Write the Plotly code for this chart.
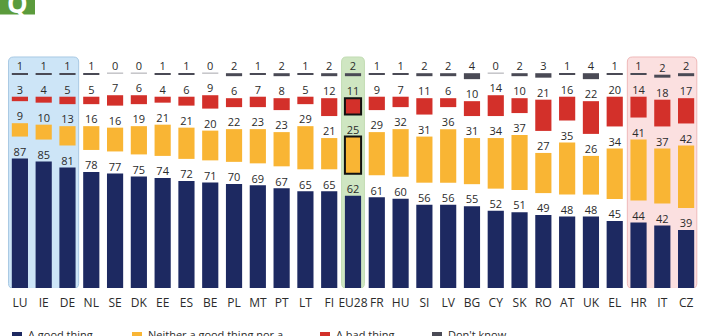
import plotly.graph_objects as go

# Survey results (%), one entry per country
countries = ["LU", "IE", "DE", "NL", "SE", "DK", "EE", "ES", "BE", "PL", "MT", "PT", "LT", "FI",
             "EU28", "FR", "HU", "SI", "LV", "BG", "CY", "SK", "RO", "AT", "UK", "EL", "HR", "IT", "CZ"]
good_thing = [87, 85, 81, 78, 77, 75, 74, 72, 71, 70, 69, 67, 65, 65,
              62, 61, 60, 56, 56, 55, 52, 51, 49, 48, 48, 45, 44, 42, 39]
neither = [9, 10, 13, 16, 16, 19, 21, 21, 20, 22, 23, 23, 29, 21,
           25, 29, 32, 31, 36, 31, 34, 37, 27, 35, 26, 34, 41, 37, 42]
bad_thing = [3, 4, 5, 5, 7, 6, 4, 6, 9, 6, 7, 8, 5, 12,
             11, 9, 7, 11, 6, 10, 14, 10, 21, 16, 22, 20, 14, 18, 17]
dont_know = [1, 1, 1, 1, 0, 0, 1, 1, 0, 2, 1, 2, 1, 2,
             2, 1, 1, 2, 2, 4, 0, 2, 3, 1, 4, 1, 1, 2, 2]

legend_labels = ["A good thing", "Neither a good thing nor a<br>bad thing", "A bad thing", "Don't know"]

NAVY = "#1d2961"
YELLOW = "#f9b534"
RED = "#d3302a"
GREY = "#4a4a55"
ZERO_GREY = "#c4c4c8"
TXT = "#2b2b2b"
FONT = "Open Sans"

GAP = 14.8       # vertical spacing between the separated segments (in % units)
BAR_W = 0.68
x = list(range(len(countries)))
hl = countries.index("EU28")

base_good = [0] * len(x)
base_neither = [g + GAP for g in good_thing]
base_bad = [g + n + 2 * GAP for g, n in zip(good_thing, neither)]
base_dk = [g + n + b + 3 * GAP for g, n, b in zip(good_thing, neither, bad_thing)]

outline_w = [2 if i == hl else 0 for i in x]

fig = go.Figure()


def add_segment(vals, base, color, outlined):
    fig.add_trace(go.Bar(
        x=x, y=vals, base=base, width=BAR_W,
        marker=dict(color=color,
                    line=dict(color="#111111", width=outline_w if outlined else 0)),
        showlegend=False, hoverinfo="skip",
    ))
    tops = [b + v for b, v in zip(base, vals)]
    fig.add_trace(go.Scatter(
        x=x, y=tops, mode="text", text=[str(v) for v in vals],
        textposition="top center", textfont=dict(family=FONT, size=11, color=TXT),
        showlegend=False, hoverinfo="skip",
    ))


add_segment(good_thing, base_good, NAVY, False)
add_segment(neither, base_neither, YELLOW, True)
add_segment(bad_thing, base_bad, RED, True)
add_segment(dont_know, base_dk, GREY, False)

# thin light line where "don't know" is zero
zx, zy = [], []
for i, v in enumerate(dont_know):
    if v == 0:
        zx += [i - BAR_W / 2, i + BAR_W / 2, None]
        zy += [base_dk[i], base_dk[i], None]
fig.add_trace(go.Scatter(x=zx, y=zy, mode="lines", line=dict(color=ZERO_GREY, width=1.5),
                         showlegend=False, hoverinfo="skip"))


def rounded_rect(x0, x1, y0, y1, rx, ry):
    return (f"M{x0 + rx},{y0} L{x1 - rx},{y0} Q{x1},{y0} {x1},{y0 + ry} "
            f"L{x1},{y1 - ry} Q{x1},{y1} {x1 - rx},{y1} L{x0 + rx},{y1} "
            f"Q{x0},{y1} {x0},{y1 - ry} L{x0},{y0 + ry} Q{x0},{y0} {x0 + rx},{y0} Z")


PANEL_TOP = 155.3
shapes = [
    dict(type="path", xref="x", yref="y", layer="below",
         path=rounded_rect(-0.48, 2.47, -0.3, PANEL_TOP, 0.22, 3.4),
         fillcolor="#cde5f7", line=dict(color="#a8c9e4", width=1)),
    dict(type="path", xref="x", yref="y", layer="below",
         path=rounded_rect(hl - 0.48, hl + 0.48, -0.3, PANEL_TOP, 0.2, 3.4),
         fillcolor="#cfe6c2", line=dict(color="#c2dcb3", width=1)),
    dict(type="path", xref="x", yref="y", layer="below",
         path=rounded_rect(25.53, 28.45, -0.3, PANEL_TOP, 0.22, 3.4),
         fillcolor="#fbe0e0", line=dict(color="#efb9b9", width=1)),
]

# page geometry helpers (pixels -> paper coordinates)
L, T, W, H = 8, 50, 690, 238


def px(p):
    return (p - L) / W


def py(p):
    return (T + H - p) / H


# logo block in the top-left corner
shapes.append(dict(type="rect", xref="paper", yref="paper",
                   x0=px(0), x1=px(35), y0=py(14.5), y1=py(-5),
                   fillcolor="#5b9b3c", line=dict(width=0)))

annotations = [dict(xref="paper", yref="paper", x=px(17), y=py(2.5), xanchor="center",
                    yanchor="middle", text="<b>Q</b>", showarrow=False,
                    font=dict(family=FONT, size=26, color="white"))]

# legend along the bottom edge
leg_x = [12, 132, 320, 432]
leg_colors = [NAVY, YELLOW, RED, GREY]
for lx, lc, lt in zip(leg_x, leg_colors, legend_labels):
    shapes.append(dict(type="rect", xref="paper", yref="paper",
                       x0=px(lx), x1=px(lx + 10), y0=py(342), y1=py(332),
                       fillcolor=lc, line=dict(width=0)))
    annotations.append(dict(xref="paper", yref="paper", x=px(lx + 14), y=py(325),
                            xanchor="left", yanchor="top", align="left", text=lt,
                            showarrow=False,
                            font=dict(family=FONT, size=11, color=TXT)))

fig.update_layout(
    width=702, height=336,
    margin=dict(l=L, r=702 - L - W, t=T, b=336 - T - H, pad=0),
    paper_bgcolor="white", plot_bgcolor="rgba(0,0,0,0)",
    barmode="overlay",
    shapes=shapes, annotations=annotations,
    xaxis=dict(range=[-0.5, len(x) - 0.5], tickmode="array", tickvals=x, ticktext=countries,
               showgrid=False, zeroline=False, showline=False, ticks="outside", ticklen=4,
               tickcolor="rgba(0,0,0,0)",
               tickfont=dict(family=FONT, size=12, color=TXT), fixedrange=True),
    yaxis=dict(range=[0, 160], visible=False, fixedrange=True),
)

fig.write_html("out.html")
